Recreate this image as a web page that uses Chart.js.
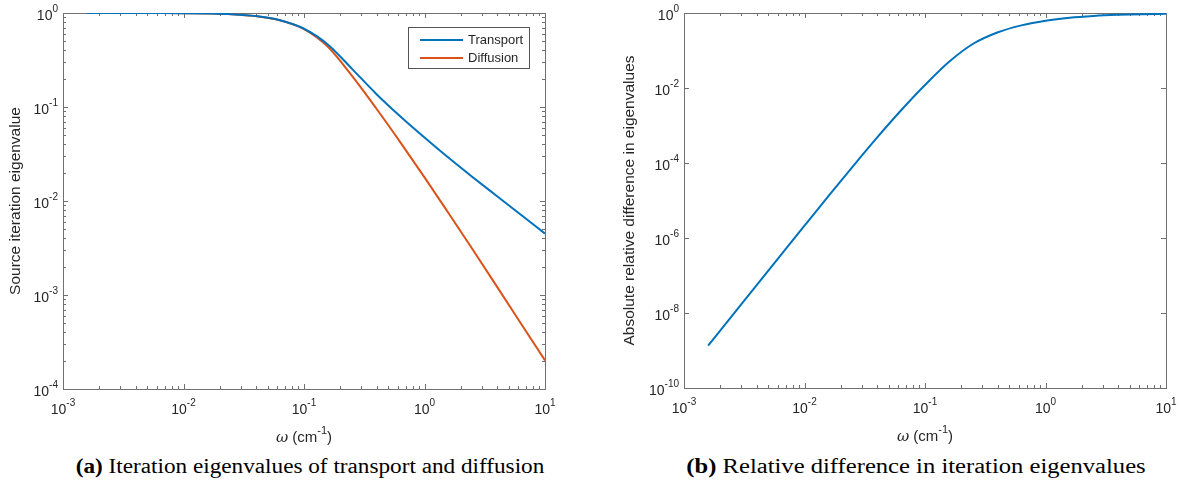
<!DOCTYPE html>
<html>
<head>
<meta charset="utf-8">
<title>Source iteration eigenvalues</title>
<script src="https://cdn.jsdelivr.net/npm/chart.js@4.4.0/dist/chart.umd.min.js"></script>
<style>
  body { margin: 0; background: #fff; width: 1184px; height: 484px; position: relative; overflow: hidden; }
  .panel { position: absolute; top: 0; width: 592px; height: 450px; }
  .caption { position: absolute; top: 455px; font-family: "Liberation Serif", "Times New Roman", serif; font-size: 20px; color: #000; white-space: nowrap; }
  #capA { left: 310px; transform: translateX(-50%) scaleX(1.16); }
  #capB { left: 916px; transform: translateX(-50%) scaleX(1.23); }
</style>
</head>
<body>
<div class="panel" style="left:0"><canvas id="eigChart"></canvas></div>
<div class="panel" style="left:592px"><canvas id="diffChart"></canvas></div>
<div class="caption" id="capA"><b>(a)</b> Iteration eigenvalues of transport and diffusion</div>
<div class="caption" id="capB"><b>(b)</b> Relative difference in iteration eigenvalues</div>
<script>
// frequencies (cm^-1), five per decade
let omega = [0.001585, 0.002512, 0.003981, 0.00631, 0.01, 0.01585, 0.02512, 0.03981, 0.0631, 0.1,
  0.1585, 0.2512, 0.3981, 0.631, 1, 1.585, 2.512, 3.981, 6.31, 10];
let transport = [0.99989, 0.9997, 0.99924, 0.99809, 0.99518, 0.9881, 0.97118, 0.92755, 0.83829, 0.68138,
  0.46052, 0.25313, 0.13777, 0.07929, 0.04734, 0.02879, 0.01792, 0.0113, 0.00713, 0.0045];
let diffusion = [0.99989, 0.9997, 0.99924, 0.99808, 0.99513, 0.98787, 0.97075, 0.92647, 0.83602, 0.67278,
  0.43431, 0.21269, 0.09634, 0.04206, 0.01786, 0.00741, 0.003048, 0.001235, 0.0004983, 0.0002013];

// |transport - diffusion| / transport
let relDiff = [1.349e-9, 8.511e-9, 5.37e-8, 3.388e-7, 2.128e-6, 1.324e-5, 8.035e-5, 4.677e-4, 2.512e-3, 0.01202,
  0.05012, 0.1514, 0.302, 0.4677, 0.6237, 0.7499, 0.8356, 0.8933, 0.9312, 0.955];

// tick labels are powers of ten
let xExponents = [-3, -2, -1, 0, 1];
let eigExponents = [0, -1, -2, -3, -4];
let diffExponents = [0, -2, -4, -6, -8, -10];

const BLUE = "#0072BD";
const ORANGE = "#D95319";
const TEXT = "#262626";
const AXIS = "#707070";
const SANS = '"Liberation Sans", Arial, sans-serif';

function points(xs, ys) {
  return xs.map(function (x, i) { return { x: x, y: ys[i] }; });
}

function drawPow(ctx, exp, x, y, align) {
  ctx.font = "14px " + SANS;
  let w1 = ctx.measureText("10").width;
  ctx.font = "10px " + SANS;
  let w2 = ctx.measureText(String(exp)).width;
  let start = align == "right" ? x - w1 - w2 : x - (w1 + w2) / 2;
  ctx.fillStyle = TEXT;
  ctx.textAlign = "left";
  ctx.textBaseline = "middle";
  ctx.font = "14px " + SANS;
  ctx.fillText("10", start, y);
  ctx.font = "10px " + SANS;
  ctx.fillText(String(exp), start + w1, y - 7);
}

function decadeTicks(min, max, minor) {
  let out = [];
  for (let d = Math.round(Math.log10(min)); d <= Math.round(Math.log10(max)); d++) {
    for (let m = 1; m <= (minor ? 9 : 1); m++) {
      let v = m * Math.pow(10, d);
      if (v >= min * 0.999 && v <= max * 1.001) out.push({ v: v, major: m == 1 });
    }
  }
  return out;
}

// box, inward ticks on all four sides, tick labels and axis titles
let axesPlugin = {
  id: "matlabAxes",
  beforeDatasetsDraw(chart, args, opts) {
    let ctx = chart.ctx, a = chart.chartArea;
    let xs = chart.scales.x, ys = chart.scales.y;
    ctx.save();
    ctx.strokeStyle = AXIS;
    ctx.lineWidth = 1;
    ctx.strokeRect(Math.round(a.left) + 0.5, Math.round(a.top) + 0.5,
      Math.round(a.right - a.left), Math.round(a.bottom - a.top));
    ctx.beginPath();
    decadeTicks(xs.min, xs.max, true).forEach(function (t) {
      let px = Math.round(xs.getPixelForValue(t.v)) + 0.5;
      let len = t.major ? 5 : 3;
      ctx.moveTo(px, a.bottom); ctx.lineTo(px, a.bottom - len);
      ctx.moveTo(px, a.top); ctx.lineTo(px, a.top + len);
    });
    decadeTicks(ys.min, ys.max, opts.yMinor).forEach(function (t) {
      let e = Math.round(Math.log10(t.v));
      if (t.major && opts.yStep && e % opts.yStep != 0) return;
      let py = Math.round(ys.getPixelForValue(t.v)) + 0.5;
      let len = t.major ? 5 : 3;
      ctx.moveTo(a.left, py); ctx.lineTo(a.left + len, py);
      ctx.moveTo(a.right, py); ctx.lineTo(a.right - len, py);
    });
    ctx.stroke();

    xExponents.forEach(function (e) {
      drawPow(ctx, e, xs.getPixelForValue(Math.pow(10, e)), a.bottom + 21, "center");
    });
    opts.yExponents.forEach(function (e) {
      drawPow(ctx, e, a.left - 5, ys.getPixelForValue(Math.pow(10, e)) + 3, "right");
    });

    // x title: omega (cm^-1)
    let cx = (a.left + a.right) / 2, ty = a.bottom + 49;
    ctx.textBaseline = "middle";
    ctx.font = "italic 15px \"DejaVu Serif\", serif";
    let wOm = ctx.measureText("\u03c9").width;
    ctx.font = "15px " + SANS;
    let wA = ctx.measureText(" (cm").width;
    let wC = ctx.measureText(")").width;
    ctx.font = "11px " + SANS;
    let wB = ctx.measureText("-1").width;
    let x0 = cx - (wOm + wA + wB + wC) / 2;
    ctx.fillStyle = TEXT;
    ctx.textAlign = "left";
    ctx.font = "italic 15px \"DejaVu Serif\", serif";
    ctx.fillText("\u03c9", x0, ty);
    ctx.font = "15px " + SANS;
    ctx.fillText(" (cm", x0 + wOm, ty);
    ctx.fillText(")", x0 + wOm + wA + wB, ty);
    ctx.font = "11px " + SANS;
    ctx.fillText("-1", x0 + wOm + wA, ty - 7);

    // y title
    ctx.translate(opts.yTitleX, (a.top + a.bottom) / 2);
    ctx.rotate(-Math.PI / 2);
    ctx.textAlign = "center";
    ctx.font = "15.5px " + SANS;
    ctx.fillText(opts.yTitle, 0, 0);
    ctx.restore();
  },
  afterDraw(chart, args, opts) {
    if (!opts.legend) return;
    let ctx = chart.ctx, a = chart.chartArea;
    let w = 121, h = 41;
    let lx = a.right - 16 - w, ly = a.top + 14;
    ctx.save();
    ctx.fillStyle = "#fff";
    ctx.fillRect(lx, ly, w, h);
    ctx.strokeStyle = "#555";
    ctx.lineWidth = 1;
    ctx.strokeRect(Math.round(lx) + 0.5, Math.round(ly) + 0.5, w, h);
    ctx.font = "13px " + SANS;
    ctx.textBaseline = "middle";
    ctx.textAlign = "left";
    chart.data.datasets.forEach(function (ds, i) {
      let yy = ly + 13 + i * 18;
      ctx.strokeStyle = ds.borderColor;
      ctx.lineWidth = 2;
      ctx.beginPath();
      ctx.moveTo(lx + 12, yy); ctx.lineTo(lx + 55, yy);
      ctx.stroke();
      ctx.fillStyle = TEXT;
      ctx.fillText(ds.label, lx + 60, yy);
    });
    ctx.restore();
  }
};

function logScales(ymin, ymax) {
  return {
    x: { type: "logarithmic", min: 1e-3, max: 10, display: false },
    y: { type: "logarithmic", min: ymin, max: ymax, display: false }
  };
}

let lineStyle = { pointRadius: 0, borderWidth: 2, cubicInterpolationMode: "monotone", fill: false };

let eigConfig = {
  type: "line",
  data: {
    datasets: [
      Object.assign({ label: "Transport", data: points(omega, transport), borderColor: BLUE }, lineStyle),
      Object.assign({ label: "Diffusion", data: points(omega, diffusion), borderColor: ORANGE }, lineStyle)
    ]
  },
  options: {
    responsive: true,
    maintainAspectRatio: false,
    animation: false,
    layout: { padding: { left: 63, top: 13, right: 47, bottom: 61 } },
    scales: logScales(1e-4, 1),
    plugins: {
      legend: { display: false },
      tooltip: { enabled: false },
      matlabAxes: { yExponents: eigExponents, yMinor: true, yTitle: "Source iteration eigenvalue", yTitleX: 16, legend: true }
    }
  },
  plugins: [axesPlugin]
};

let diffConfig = {
  type: "line",
  data: {
    datasets: [
      Object.assign({ label: "Relative difference", data: points(omega, relDiff), borderColor: BLUE }, lineStyle)
    ]
  },
  options: {
    responsive: true,
    maintainAspectRatio: false,
    animation: false,
    layout: { padding: { left: 92, top: 13, right: 18, bottom: 62 } },
    scales: logScales(1e-10, 1),
    plugins: {
      legend: { display: false },
      tooltip: { enabled: false },
      matlabAxes: { yExponents: diffExponents, yMinor: false, yStep: 2, yTitle: "Absolute relative difference in eigenvalues", yTitleX: 38, legend: false }
    }
  },
  plugins: [axesPlugin]
};

var eigChart = new Chart(document.getElementById("eigChart"), eigConfig);
var diffChart = new Chart(document.getElementById("diffChart"), diffConfig);
</script>
</body>
</html>
